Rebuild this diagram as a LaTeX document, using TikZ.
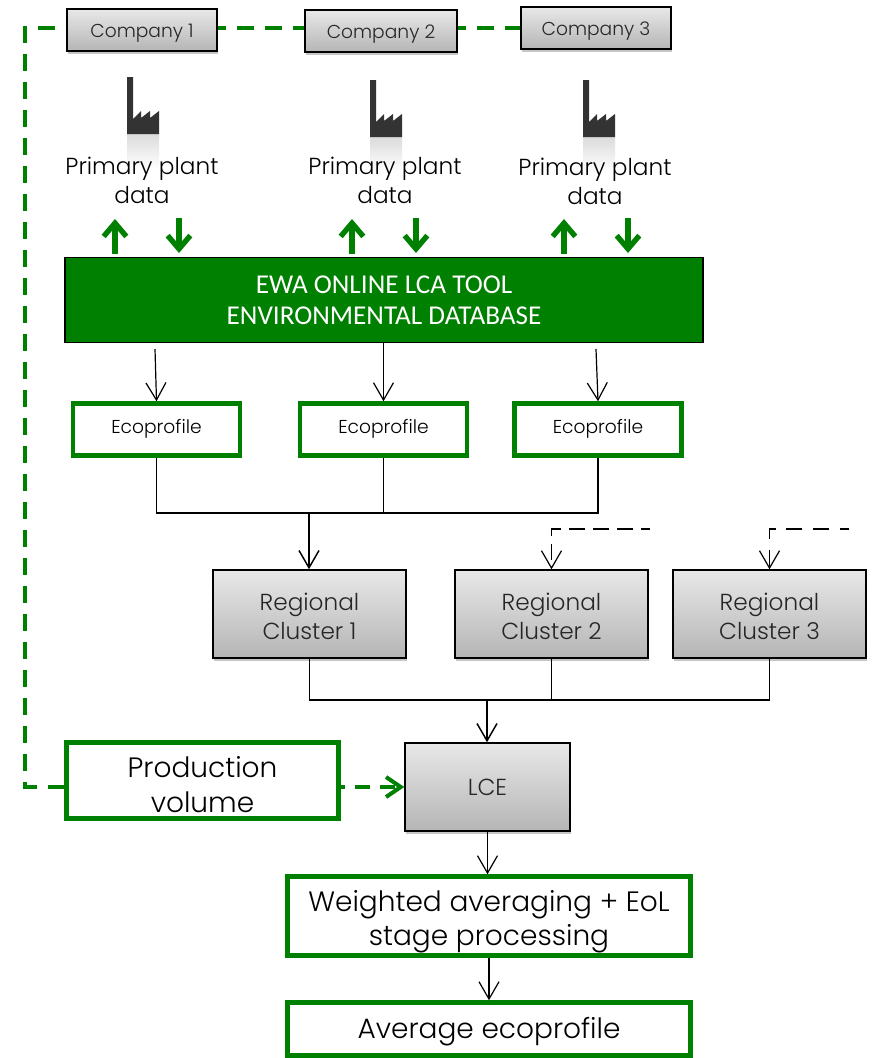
\documentclass[tikz,border=0pt]{standalone}
\usepackage{fontspec}
\setmainfont{Poppins}[UprightFont=* Light]
\newfontfamily\dbfont{Carlito}
\usepackage{tikz}
\usetikzlibrary{arrows.meta}
\usetikzlibrary{shadows}
\definecolor{ewagreen}{HTML}{008000}
\def\px{0.75pt}
\newcommand{\bigtext}{\fontsize{21}{26}\selectfont}
\newcommand{\midtext}{\fontsize{17.4}{21.75}\selectfont}
\newcommand{\smalltext}{\fontsize{14}{18}\selectfont}
\tikzset{
 greybox/.style={draw=black, line width=1.1pt, top color=gray!18, bottom color=gray!58, text=black!85,
   drop shadow={shadow xshift=1pt, shadow yshift=-2pt, opacity=0.45}, inner sep=0pt, align=center},
 greenbox/.style={draw=ewagreen, line width=3.4pt, fill=white, inner sep=0pt, align=center},
 flow/.style={-{Straight Barb[length=13pt,width=15pt]}, line width=0.9pt},
 feed/.style={flow, dash pattern=on 12pt off 8pt, dash phase=5pt},
 link/.style={line width=1pt},
 greenlink/.style={draw=ewagreen, line width=3pt, dash pattern=on 12.75pt off 8.25pt},
 greenarrow/.style={draw=ewagreen, line width=4pt, -{Straight Barb[length=10pt,width=17pt]}}
}
% plant icon with its reflection
\newcommand{\plant}[2]{
 \shade[top color=gray!28, bottom color=white] (#1,#2+57) rectangle (#1+32,#2+92);
 \fill[black!80] (#1,#2) -- (#1+6,#2) -- (#1+6,#2+42) -- (#1+14,#2+34) -- (#1+14,#2+41)
   -- (#1+23,#2+34) -- (#1+23,#2+41) -- (#1+32,#2+34) -- (#1+32,#2+57) -- (#1,#2+57) -- cycle;
}
\begin{document}
\begin{tikzpicture}[x=0.75pt, y=-0.75pt]
\useasboundingbox (0,0) rectangle (876,1058);
\plant{127}{77}
\plant{370}{80}
\plant{583}{80}
% companies
\node[greybox, minimum width=150*\px, minimum height=42*\px, font=\smalltext] (company1) at (142,30) {\rule{0pt}{15pt}Company 1};
\node[greybox, minimum width=152*\px, minimum height=42*\px, font=\smalltext] (company2) at (381,31) {\rule{0pt}{15pt}Company 2};
\node[greybox, minimum width=150*\px, minimum height=42*\px, font=\smalltext] (company3) at (596,28) {\rule{0pt}{15pt}Company 3};
% plant data
\node[align=center, font=\midtext, inner sep=0pt] (plant1) at (142,180) {Primary plant\\data};
\node[align=center, font=\midtext, inner sep=0pt] (plant2) at (385,180) {Primary plant\\data};
\node[align=center, font=\midtext, inner sep=0pt] (plant3) at (595,181) {Primary plant\\data};
% database
\node[draw=black, line width=1.1pt, fill=ewagreen, text=white, align=center, inner sep=0pt,
  minimum width=638*\px, minimum height=85*\px, font=\dbfont\fontsize{20.4}{23.5}\selectfont] (db) at (384,300)
  {EWA ONLINE LCA TOOL\\ENVIRONMENTAL DATABASE};
% ecoprofiles
\node[greenbox, minimum width=167*\px, minimum height=52*\px, font=\smalltext] (eco1) at (156.5,429.5) {\rule[-5pt]{0pt}{5pt}Ecoprofile};
\node[greenbox, minimum width=167*\px, minimum height=52*\px, font=\smalltext] (eco2) at (383.5,429.5) {\rule[-5pt]{0pt}{5pt}Ecoprofile};
\node[greenbox, minimum width=167*\px, minimum height=52*\px, font=\smalltext] (eco3) at (598,429.5) {\rule[-5pt]{0pt}{5pt}Ecoprofile};
% clusters
\node[greybox, minimum width=193*\px, minimum height=88*\px, font=\midtext] (cluster1) at (309.5,614) {\rule{0pt}{16pt}Regional\\Cluster 1};
\node[greybox, minimum width=193*\px, minimum height=88*\px, font=\midtext] (cluster2) at (551.5,614) {\rule{0pt}{16pt}Regional\\Cluster 2};
\node[greybox, minimum width=193*\px, minimum height=88*\px, font=\midtext] (cluster3) at (769.5,614) {\rule{0pt}{16pt}Regional\\Cluster 3};
% lower part
\node[greybox, minimum width=165*\px, minimum height=88*\px, font=\midtext] (lce) at (487.5,787) {LCE};
\node[greenbox, minimum width=272*\px, minimum height=76*\px, font=\bigtext] (volume) at (202.5,780.5) {\rule{0pt}{21.5pt}Production\\volume};
\node[greenbox, minimum width=403*\px, minimum height=79*\px, font=\bigtext] (weighted) at (489,916) {\rule{0pt}{24.5pt}Weighted averaging + EoL\\stage processing};
\node[greenbox, minimum width=403*\px, minimum height=53*\px, font=\bigtext] (average) at (489,1029) {\rule{0pt}{20pt}Average ecoprofile};
% free ends
\coordinate (left) at (25,28);
\coordinate (corner) at (25,787);
\coordinate (db1) at (155,349);
\coordinate (db3) at (596,349);
\coordinate (join1) at (309,513);
\coordinate (join2) at (487,700);
\coordinate (feed2) at (650,529);
\coordinate (feed3) at (849,529);
\coordinate (top1) at (115,219);
\coordinate (low1) at (115,254);
\coordinate (top2) at (179,218);
\coordinate (low2) at (179,253);
\coordinate (top3) at (352,219);
\coordinate (low3) at (352,254);
\coordinate (top4) at (416,218);
\coordinate (low4) at (416,253);
\coordinate (top5) at (564,219);
\coordinate (low5) at (564,254);
\coordinate (top6) at (628,218);
\coordinate (low6) at (628,253);
% green dashed lines
\draw[greenlink, dash phase=12.75pt] (company1.west |- left) -- (left) -- (corner) -- (volume.west |- corner);
\draw[greenlink, dash phase=6.75pt] (company1.east |- left) -- (company2.west |- left);
\draw[greenlink, dash phase=6.75pt] (company2.east |- left) -- (company3.west |- left);
\draw[greenlink, dash pattern=on 11.25pt off 7.5pt, dash phase=8.25pt, -{Straight Barb[length=11pt,width=15pt]}] (volume.east |- corner) -- (lce.west);
% green arrows
\draw[greenarrow] (low1) -- (top1);
\draw[greenarrow] (top2) -- (low2);
\draw[greenarrow] (low3) -- (top3);
\draw[greenarrow] (top4) -- (low4);
\draw[greenarrow] (low5) -- (top5);
\draw[greenarrow] (top6) -- (low6);
% database to ecoprofiles
\draw[flow] (db1) -- (eco1.north);
\draw[flow] (db.south -| eco2.north) -- (eco2.north);
\draw[flow] (db3) -- (eco3.north);
% joins
\draw[link] (eco1.south) -- (eco1.south |- join1) -- (eco3.south |- join1) -- (eco3.south);
\draw[link] (eco2.south) -- (eco2.south |- join1);
\draw[flow, line width=1.1pt] (join1) -- (join1 |- cluster1.north);
\draw[link] (cluster1.south) -- (cluster1.south |- join2) -- (cluster3.south |- join2) -- (cluster3.south);
\draw[link] (cluster2.south) -- (cluster2.south |- join2);
\draw[flow, line width=1.1pt] (join2) -- (join2 |- lce.north);
\draw[feed, dash pattern=on 12pt off 6pt, dash phase=5pt] (feed2) -- (feed2 -| cluster2.north) -- (cluster2.north);
\draw[feed] (feed3) -- (feed3 -| cluster3.north) -- (cluster3.north);
\draw[flow] (lce.south) -- (weighted.north -| lce.south);
\draw[flow] (weighted.south) -- (average.north);
\end{tikzpicture}
\end{document}
